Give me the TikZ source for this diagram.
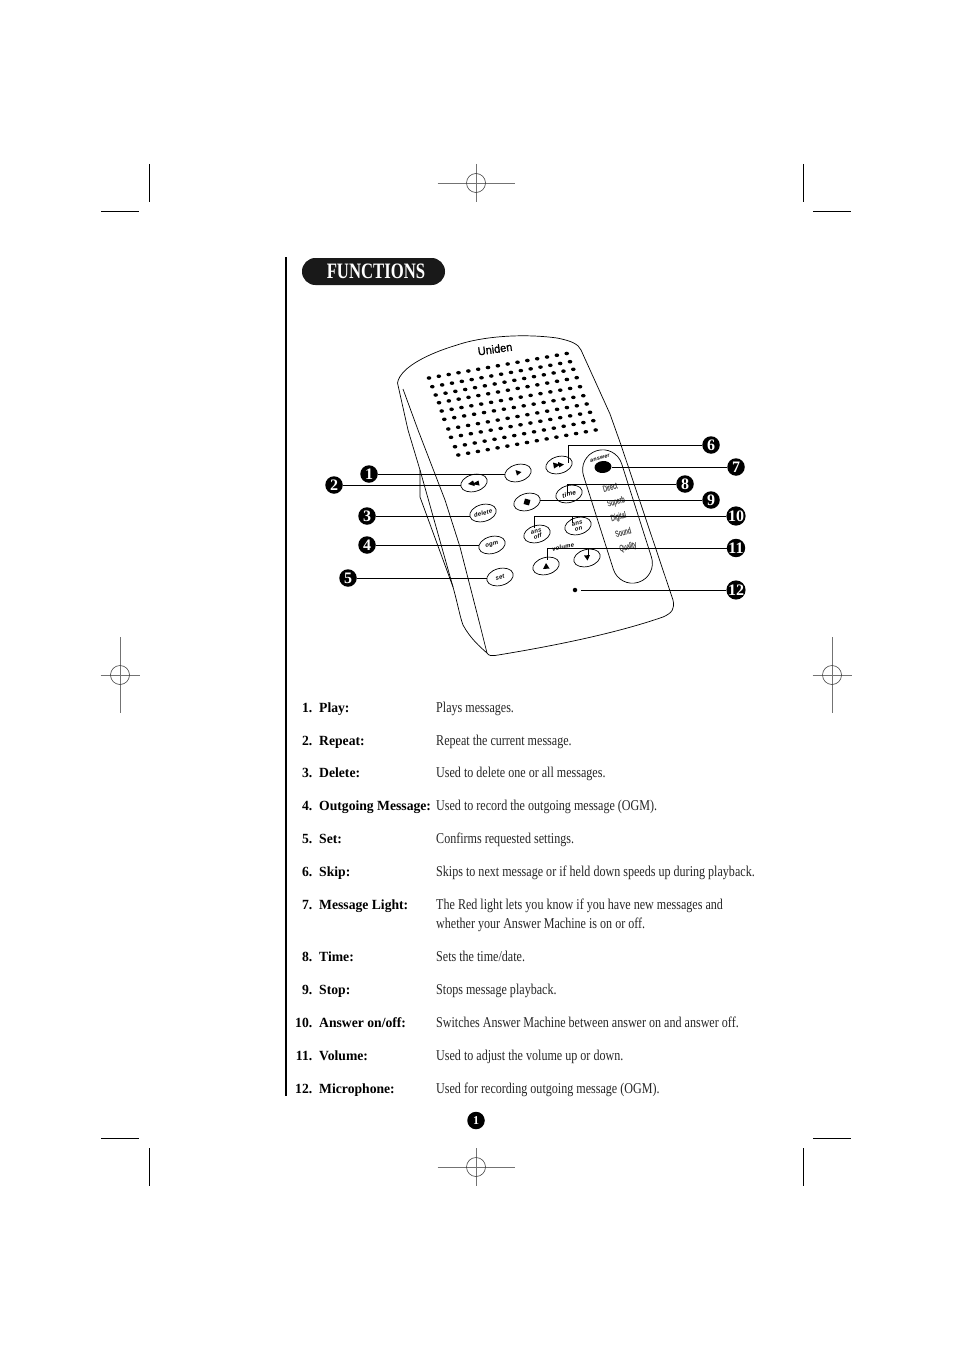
\documentclass[tikz,border=0pt]{standalone}
\usepackage{fontspec}
\setmainfont{Liberation Serif}
\newfontfamily\condfont[FakeStretch=0.805]{Liberation Serif}
\newfontfamily\titlefont[FakeStretch=0.76]{Liberation Serif}
\newfontfamily\namefont[FakeStretch=0.975]{Liberation Serif}
\newfontfamily\tinyfont[FakeStretch=0.62,FakeBold=0.6]{Liberation Sans}
\setsansfont[LetterSpace=4]{Liberation Sans}
\newfontfamily\logofont[FakeBold=0.8,FakeStretch=0.95]{Liberation Sans}
\usetikzlibrary{shapes.geometric}
\tikzset{
  regline/.style={draw=black!55,line width=0.6pt},
  cropline/.style={draw=black,line width=0.7pt},
  body/.style={draw=black,line width=0.7pt,line join=round},
  btn/.style={draw=black,line width=0.7pt,ellipse,inner sep=0pt,minimum width=27pt,minimum height=17pt,rotate=15,font=\sffamily\bfseries\itshape\fontsize{6}{6}\selectfont,align=center},
  leader/.style={draw=black,line width=0.9pt},
  callout/.style={circle,fill=black,text=white,inner sep=0pt,minimum size=17.5pt,font=\fontsize{16}{16}\selectfont\bfseries},
  feat/.style={font=\tinyfont\fontsize{9}{9}\selectfont\color{black!65},rotate=15,inner sep=0pt},
  numtxt/.style={anchor=base east,inner sep=0pt,font=\namefont\fontsize{14}{14}\selectfont\bfseries},
  nametxt/.style={anchor=base west,inner sep=0pt,font=\namefont\fontsize{14}{14}\selectfont\bfseries},
  desctxt/.style={anchor=base west,inner sep=0pt,font=\condfont\fontsize{15}{15}\selectfont,text=black!85},
}
\begin{document}
\begin{tikzpicture}[x=1pt,y=-1pt]
\useasboundingbox (0,0) rectangle (954,1351);
\fill[white] (0,0) rectangle (954,1351);
% crop marks
\draw[cropline] (149,164)--(149,202) (101,211)--(139,211);
\draw[cropline] (803,164)--(803,202) (813,211)--(851,211);
\draw[cropline] (149,1148)--(149,1186) (101,1138)--(139,1138);
\draw[cropline] (803,1148)--(803,1186) (813,1138)--(851,1138);
% registration marks
\foreach \cx/\cy/\hx/\hy in {476/183/38.5/19,476/1167/38.5/19,120/675/19.5/38,832/675/19.5/38}{
  \draw[regline] (\cx-\hx,\cy)--(\cx+\hx,\cy) (\cx,\cy-\hy)--(\cx,\cy+\hy);
  \draw[draw=black!75,line width=0.6pt] (\cx,\cy) circle (9.5);
}
% side rule
\draw[line width=2.2pt] (286,257)--(286,1096);
% title
\node[fill=black!90,rounded corners=13.4pt,minimum width=143pt,minimum height=27pt,inner sep=0pt,text=white] (title) at (373.5,271.5) {\hspace*{5pt}\titlefont\bfseries\fontsize{22}{22}\selectfont FUNCTIONS};
% device body
\draw[body] (581,350) .. controls (578,344) and (572,341) .. (557,338)
  .. controls (520,333) and (480,337) .. (457,345)
  .. controls (430,353) and (400,367) .. (397.5,383)
  -- (408,430) -- (420,470) -- (420,497) -- (453,587)
  .. controls (458,605) and (460,617) .. (463,625)
  .. controls (470,638) and (480,647) .. (487,653)
  .. controls (489,656) and (492,656) .. (495,655.5)
  .. controls (560,645) and (620,632) .. (663,617)
  .. controls (672,613) and (675,609) .. (673,600)
  -- (621,445) -- (610,414) -- (581,350);
\draw[body] (403,389) -- (418,430) -- (445,500) -- (460,547) -- (480,625) -- (487,653);
\draw[body] (420,470) -- (453,587);
% speaker holes
\foreach \r/\sx/\sy/\ex/\ey in {0/429/378/566.7/353.5, 1/432.3/386.7/570/361.7, 2/435.7/395/573.3/369.3, 3/439/402.7/576.7/377.7, 4/441.7/411/580/386.7, 5/444.3/419.3/583.3/395.7, 6/448.3/429/586.7/404, 7/451/437.3/590/412.3, 8/455/446.7/593.3/420.7, 9/458.3/455/595.7/430}{
  \foreach \i in {0,...,14}{
    \fill ({\sx+(\ex-\sx)*\i/14},{\sy+(\ey-\sy)*\i/14}) ellipse (2.3 and 1.8);
  }
}
\node[rotate=8,inner sep=0pt,font=\logofont\fontsize{11.5}{11.5}\selectfont] (logo) at (495,349) {Uniden};
% answer panel
\node[draw,line width=0.7pt,rotate=-72.3,minimum width=138pt,minimum height=40pt,rounded corners=19.9pt,inner sep=0pt] (panel) at (617.5,516.5) {};
\node[rotate=15,inner sep=0pt,font=\sffamily\bfseries\itshape\fontsize{5.5}{5.5}\selectfont] (answer) at (600,458) {answer};
\node[ellipse,fill=black,rotate=5,minimum width=17pt,minimum height=12pt,inner sep=0pt] (light) at (603,467) {};
\node[feat] (f1) at (610,487) {Direct};
\node[feat] (f2) at (616,502) {Superb};
\node[feat] (f3) at (618.5,517) {Digital};
\node[feat] (f4) at (623,532) {Sound};
\node[feat] (f5) at (628,547) {Quality};
% buttons
\node[btn] (play) at (518,473) {};
\node[btn] (rew) at (474,483) {};
\node[btn] (del) at (483,513) {delete};
\node[btn] (ogm) at (492,545) {ogm};
\node[btn] (set) at (500,577) {set};
\node[btn] (stop) at (527,502) {};
\node[btn] (ffwd) at (559,465) {};
\node[btn] (time) at (569,494) {\fontsize{6.5}{6.5}\selectfont time};
\node[btn] (ansoff) at (537,534) {ans\\[-0.5pt]off};
\node[btn] (anson) at (578,526) {ans\\[-0.5pt]on};
\node[btn] (volup) at (546,566) {};
\node[btn] (voldn) at (587,558) {};
\node[rotate=12,inner sep=0pt,font=\sffamily\bfseries\itshape\fontsize{6}{6}\selectfont] (vol) at (563,547) {volume};
\node[ellipse,fill=black,minimum width=4.5pt,minimum height=4.5pt,inner sep=0pt] (mic) at (575,590) {};
% button glyphs
\fill (play.center) ++(-2.5,-3) -- ++(6,2) -- ++(-4.5,3.5) -- cycle;
\fill (rew.center) ++(-6,1) -- ++(5,-3.5) -- ++(1,2.5) -- ++(4.5,-2.5) -- ++(1,5) -- ++(-5,-1) -- ++(0,1.5) -- cycle;
\fill (ffwd.center) ++(-6,-2.5) -- ++(5,1.5) -- ++(0,-2) -- ++(6,2.5) -- ++(-5,3) -- ++(0,-2) -- ++(-5,3) -- cycle;
\fill[rotate around={-15:(stop.center)}] (stop.center) ++(-2.8,-2.8) rectangle ++(5.6,5.6);
\fill (volup.center) ++(0,-3) -- ++(3.5,5.5) -- ++(-6.5,.5) -- cycle;
\fill (voldn.center) ++(-3,-2.5) -- ++(6,-.5) -- ++(-2.5,5.5) -- cycle;
% callouts
\node[callout] (c1) at (369,474) {1};
\node[callout] (c2) at (334,485) {2};
\node[callout] (c3) at (367,516) {3};
\node[callout] (c4) at (367,545) {4};
\node[callout] (c5) at (348,578) {5};
\node[callout] (c6) at (711,445) {6};
\node[callout] (c7) at (736,467) {7};
\node[callout] (c8) at (685,484) {8};
\node[callout] (c9) at (711,500) {9};
\node[callout] (c10) at (736,516) {10};
\node[callout] (c11) at (736,548) {11};
\node[callout] (c12) at (736,590) {12};
% connectors
\coordinate (e6) at (568,463);
\coordinate (e8) at (567,494);
\coordinate (e10) at (534,528);
\coordinate (e10b) at (572,523);
\coordinate (e11) at (547,560);
\coordinate (e11b) at (588,555);
\coordinate (e12) at (581,590);
\draw[leader] (c1.east) -- (c1.east -| play.west);
\draw[leader] (c2.east) -- (c2.east -| rew.west);
\draw[leader] (c3.east) -- (c3.east -| del.west);
\draw[leader] (c4.east) -- (c4.east -| ogm.west);
\draw[leader] (c5.east) -- (c5.east -| set.west);
\draw[leader] (c6.west) -| (e6);
\draw[leader] (c7.west) -- (c7.west -| light.east);
\draw[leader] (c8.west) -| (e8);
\draw[leader] (c9.west) -- (c9.west -| stop.east);
\draw[leader] (c10.west) -| (e10);
\draw[leader] (e10b) |- (c10.west);
\draw[leader] (c11.west) -| (e11);
\draw[leader] (e11b) |- (c11.west);
\draw[leader] (c12.west) -- (e12);
% table
\foreach \n/\name/\y in {1/Play/712,2/Repeat/745,3/Delete/777,4/Outgoing Message/810,5/Set/843,6/Skip/876,7/Message Light/909,8/Time/961,9/Stop/994,10/Answer on\slash off/1027,11/Volume/1060,12/Microphone/1093}{
  \node[numtxt] at (312.5,\y) {\n.};
  \node[nametxt] at (319,\y) {\name:};
}
\node[desctxt] (d1) at (436,712) {Plays messages.};
\node[desctxt] (d2) at (436,745) {Repeat the current message.};
\node[desctxt] (d3) at (436,777) {Used to delete one or all messages.};
\node[desctxt] (d4) at (436,810) {Used to record the outgoing message (OGM).};
\node[desctxt] (d5) at (436,843) {Confirms requested settings.};
\node[desctxt] (d6) at (436,876) {Skips to next message or if held down speeds up during playback.};
\node[desctxt] (d7) at (436,909) {The Red light lets you know if you have new messages and};
\node[desctxt] (d7b) at (436,928) {whether your Answer Machine is on or off.};
\node[desctxt] (d8) at (436,961) {Sets the time/date.};
\node[desctxt] (d9) at (436,994) {Stops message playback.};
\node[desctxt] (d10) at (436,1027) {Switches Answer Machine between answer on and answer off.};
\node[desctxt] (d11) at (436,1060) {Used to adjust the volume up or down.};
\node[desctxt] (d12) at (436,1093) {Used for recording outgoing message (OGM).};
% page number
\node[callout,font=\fontsize{12}{12}\selectfont\bfseries] (page) at (476,1120.5) {1};
\end{tikzpicture}
\end{document}
